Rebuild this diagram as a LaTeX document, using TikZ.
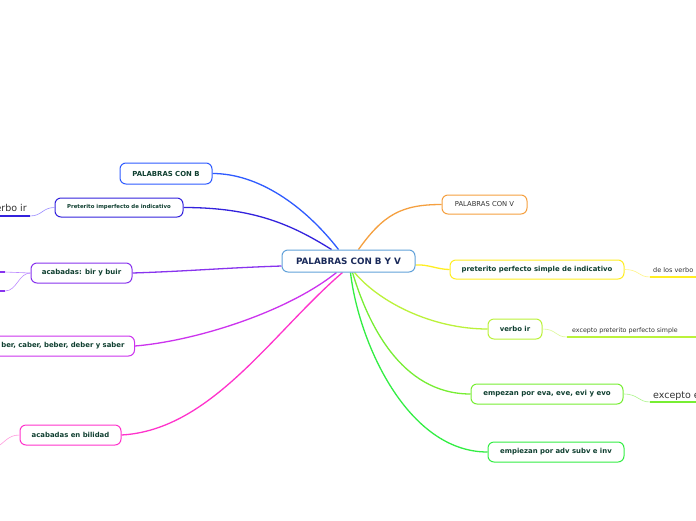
\documentclass[tikz,border=0pt]{standalone}
\usepackage{fontspec}
\setmainfont{DejaVu Sans}
\usetikzlibrary{calc}
\pgfdeclarelayer{bg}
\pgfsetlayers{bg,main}
\definecolor{txtg}{HTML}{0F3F30}
\definecolor{navy}{HTML}{1A2A5A}
\definecolor{cC}{HTML}{62A2DA}
\definecolor{cB}{HTML}{2F5BFF}
\definecolor{cI}{HTML}{3322DD}
\definecolor{cIl}{HTML}{9A8CFF}
\definecolor{cR}{HTML}{8833EE}
\definecolor{cRl}{HTML}{BB88FF}
\definecolor{cS}{HTML}{CC33EE}
\definecolor{cL}{HTML}{FF33CC}
\definecolor{cLl}{HTML}{FF99DD}
\definecolor{cV}{HTML}{F5A040}
\definecolor{cY}{HTML}{FFEE22}
\definecolor{cYl}{HTML}{FFF588}
\definecolor{cG1}{HTML}{BBF23A}
\definecolor{cG1l}{HTML}{DDFA99}
\definecolor{cG2}{HTML}{77EE33}
\definecolor{cG2l}{HTML}{AAF588}
\definecolor{cG3}{HTML}{33EE44}
\definecolor{gray}{HTML}{333333}
\tikzset{
  topic/.style={draw, rounded corners=6pt, line width=1pt, fill=white, inner sep=0pt,
    font=\bfseries\fontsize{6.9}{8}\selectfont, text=txtg},
  conn/.style={line width=1.3pt},
  subc/.style={line width=0.6pt},
  uline/.style={line width=1.6pt},
  subtxt/.style={inner sep=0pt, anchor=base west, text=gray, font=\fontsize{6.5}{8}\selectfont},
}
\begin{document}
\begin{tikzpicture}[x=1pt,y=-1pt]
\useasboundingbox (0,0) rectangle (696,520);
\begin{pgfonlayer}{bg}
\fill[white] (0,0) rectangle (696,520);
\end{pgfonlayer}
% central
\node[topic, draw=cC, text=navy, minimum width=133pt, minimum height=22pt,
  font=\bfseries\fontsize{8.8}{10}\selectfont] (ctr) at (348.5,261) {PALABRAS CON B Y V};
% left topics
\node[topic, draw=cB, minimum width=92pt, minimum height=21pt] (B) at (166,173.5) {PALABRAS CON B};
\node[topic, draw=cI, minimum width=128pt, minimum height=19pt,
  font=\bfseries\fontsize{5.4}{6}\selectfont] (imp) at (119,207.5) {Preterito imperfecto de indicativo};
\node[topic, draw=cR, minimum width=101pt, minimum height=20pt,
  font=\bfseries\fontsize{7.0}{8}\selectfont] (bir) at (81.5,273) {acabadas: bir y buir};
\node[topic, draw=cS, minimum height=20pt, inner xsep=10pt, anchor=east,
  font=\bfseries\fontsize{6.9}{8}\selectfont] (sab) at (135,346) {\hspace*{20pt}ber, caber, beber, deber y saber};
\node[topic, draw=cL, minimum width=101pt, minimum height=20pt] (bil) at (70.5,435) {acabadas en bilidad};
% right topics
\node[topic, draw=cV, minimum width=85pt, minimum height=19pt, font=\fontsize{6.8}{8}\selectfont,
  text=gray] (V) at (484.5,204.5) {PALABRAS CON V};
\node[topic, draw=cY, minimum width=174pt, minimum height=19pt] (pps) at (537,269.5) {preterito perfecto simple de indicativo};
\node[topic, draw=cG1, minimum width=54pt, minimum height=20pt] (vir) at (515,329) {verbo ir};
\node[topic, draw=cG2, minimum width=152pt, minimum height=20pt,
  font=\bfseries\fontsize{7.0}{8}\selectfont] (eva) at (547,394) {empezan por eva, eve, evi y evo};
\node[topic, draw=cG3, minimum width=136pt, minimum height=20pt,
  font=\bfseries\fontsize{6.9}{8}\selectfont] (adv) at (556,452) {empiezan por adv subv e inv};
% main connectors
\begin{pgfonlayer}{bg}
\draw[conn, cB] (B.east) .. controls +(45,0) and +(-35,-45) .. ($(ctr.north)+(-10,0)$);
\draw[conn, cI] (imp.east) .. controls +(70,0) and +(-40,-25) .. ($(ctr.north)+(-17,0)$);
\draw[conn, cR] (bir.east) .. controls +(60,-2) and +(-60,2) .. ($(ctr.west)+(0,5)$);
\draw[conn, cS] (sab.east) .. controls +(60,-5) and +(-50,40) .. ($(ctr.south)+(-12,0)$);
\draw[conn, cL] (bil.east) .. controls +(90,-5) and +(-70,60) .. ($(ctr.south)+(-6,0)$);
\draw[conn, cV] (V.west) .. controls +(-40,0) and +(25,-35) .. ($(ctr.north)+(10,0)$);
\draw[conn, cY] (pps.west) .. controls +(-12,0) and +(12,-1) .. ($(ctr.east)+(0,4)$);
\draw[conn, cG1] (vir.west) .. controls +(-55,0) and +(25,30) .. ($(ctr.south)+(6,0)$);
\draw[conn, cG2] (eva.west) .. controls +(-70,0) and +(15,50) .. ($(ctr.south)+(4,0)$);
\draw[conn, cG3] (adv.west) .. controls +(-80,0) and +(8,70) .. ($(ctr.south)+(2,0)$);
\end{pgfonlayer}
% sub topics right
\node[subtxt] (t1) at (653,272) {de los verbo};
\coordinate (e1) at (696,277);
\draw[subc, cYl] (pps.east) .. controls +(15,0) and +(-12,0) .. (650,277);
\draw[uline, cY] (650,277) -- (e1);
\node[subtxt, font=\fontsize{6.3}{8}\selectfont] (t2) at (572,332) {excepto preterito perfecto simple};
\coordinate (e2) at (696,337);
\draw[subc, cG1l] (vir.east) .. controls +(14,0) and +(-12,0) .. (567,337);
\draw[uline, cG1] (567,337) -- (e2);
\node[subtxt, font=\fontsize{9.5}{11}\selectfont] (t3) at (653,398) {excepto é};
\coordinate (e3) at (696,402);
\draw[subc, cG2l] (eva.east) .. controls +(15,0) and +(-12,0) .. (650,402);
\draw[uline, cG2] (650,402) -- (e3);
% sub topics left
\node[subtxt, anchor=base east, font=\fontsize{9.5}{11}\selectfont] (t4) at (27,211) {verbo ir};
\coordinate (e4) at (0,216);
\draw[subc, cIl] (imp.west) .. controls +(-12,0) and +(12,0) .. (30,216);
\draw[uline, cI] (30,216) -- (e4);
\coordinate (e5) at (0,272);
\coordinate (e6) at (0,291);
\draw[subc, cRl] (bir.west) .. controls +(-12,0) and +(12,0) .. (5,272);
\draw[subc, cRl] (bir.west) .. controls +(-12,0) and +(12,0) .. (5,291);
\draw[uline, cR] (5,272) -- (e5);
\draw[uline, cR] (5,291) -- (e6);
\coordinate (e7) at (-5,448);
\draw[subc, cLl] (bil.west) .. controls +(-12,0) and +(10,-5) .. (e7);
\end{tikzpicture}
\end{document}
